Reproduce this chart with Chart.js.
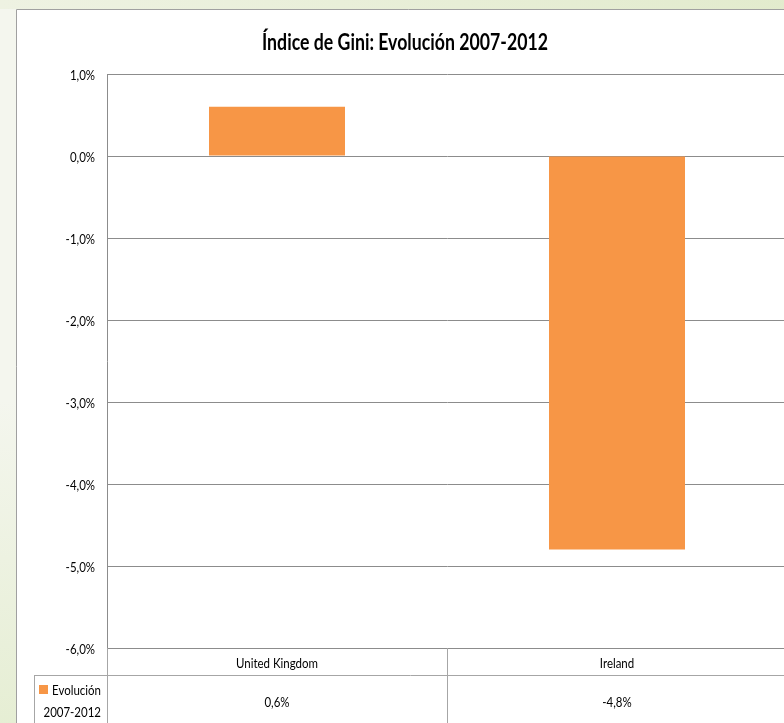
<!DOCTYPE html>
<html>
<head>
<meta charset="utf-8">
<title>Índice de Gini: Evolución 2007-2012</title>
<script src="https://cdn.jsdelivr.net/npm/chart.js@4/dist/chart.umd.min.js"></script>
<style>
  html, body { margin: 0; padding: 0; overflow: hidden; }
  body { width: 784px; height: 723px; background: #f3f5ec; }
  #wrap { position: absolute; left: 0; top: 0; width: 800px; height: 723px; }
</style>
</head>
<body>
<div id="wrap"><canvas id="c" width="800" height="723"></canvas></div>
<script>
// Chart data
const titleText = 'Índice de Gini: Evolución 2007-2012';
const categories = ['United Kingdom', 'Ireland'];
const seriesName = ['Evolución', '2007-2012'];
const seriesValues = [0.6, -4.8];
const tableLabels = ['0,6%', '-4,8%'];

const FONT = 'Lato, "Open Sans", sans-serif';
const ORANGE = '#f79646';
const GRID = '#8c8c8c';
const TABLE_LINE = '#a6a6a6';
const NARROW = 0.82;   // horizontal squeeze for a condensed look

const fmtPct = v => v.toFixed(1).replace('.', ',') + '%';

// draw text squeezed horizontally, anchored at x by the given alignment
function narrowText(ctx, text, x, y, align, sx) {
  ctx.save();
  ctx.translate(x, y);
  ctx.scale(sx, 1);
  ctx.textAlign = align;
  ctx.fillText(text, 0, 0);
  ctx.restore();
}

// Page backdrop, chart frame, title, axis labels and the data table under the plot
const decor = {
  id: 'decor',
  beforeDraw(chart) {
    const ctx = chart.ctx;
    ctx.save();
    ctx.fillStyle = '#f4f6ee';
    ctx.fillRect(0, 0, 800, 723);
    const lg = ctx.createLinearGradient(0, 400, 0, 723);
    lg.addColorStop(0, 'rgba(226,236,205,0)');
    lg.addColorStop(1, 'rgba(226,236,205,0.8)');
    ctx.fillStyle = lg;
    ctx.fillRect(0, 400, 16, 323);
    const g = ctx.createLinearGradient(0, 0, 800, 0);
    g.addColorStop(0, '#eef2e2');
    g.addColorStop(1, '#e2ebcd');
    ctx.fillStyle = g;
    ctx.fillRect(0, 0, 800, 9);
    // chart frame
    ctx.fillStyle = '#ffffff';
    ctx.fillRect(16, 9, 800, 723);
    ctx.strokeStyle = '#a0a0a0';
    ctx.lineWidth = 1;
    ctx.beginPath();
    ctx.moveTo(16.5, 723);
    ctx.lineTo(16.5, 9.5);
    ctx.lineTo(800, 9.5);
    ctx.stroke();
    ctx.restore();
  },
  afterDraw(chart) {
    const ctx = chart.ctx;
    const area = chart.chartArea;
    const x = chart.scales.x;
    const y = chart.scales.y;
    ctx.save();
    ctx.fillStyle = '#000';

    // title, squeezed to a condensed width
    ctx.font = 'bold 23px ' + FONT;
    ctx.textBaseline = 'alphabetic';
    narrowText(ctx, titleText, 405, 50, 'center', 0.77);
    ctx.textBaseline = 'middle';

    // value axis labels
    ctx.font = '14px ' + FONT;
    y.ticks.forEach(t => {
      narrowText(ctx, fmtPct(t.value), area.left - 12, y.getPixelForValue(t.value) + 1, 'right', NARROW);
    });

    // data table geometry from the category scale
    const half = (x.getPixelForValue(1) - x.getPixelForValue(0)) / 2;
    const colEdges = [x.getPixelForValue(0) - half];
    categories.forEach((c, i) => colEdges.push(x.getPixelForValue(i) + half));
    const top = area.bottom;
    const rowSplit = top + 27;
    const bottom = 723;
    const legendLeft = 34;

    ctx.strokeStyle = TABLE_LINE;
    ctx.lineWidth = 1;
    ctx.beginPath();
    ctx.moveTo(legendLeft, Math.round(rowSplit) + 0.5);
    ctx.lineTo(colEdges[colEdges.length - 1], Math.round(rowSplit) + 0.5);
    colEdges.forEach(cx => {
      const px = Math.round(cx) + 0.5;
      ctx.moveTo(px, top);
      ctx.lineTo(px, bottom);
    });
    ctx.moveTo(legendLeft + 0.5, Math.round(rowSplit));
    ctx.lineTo(legendLeft + 0.5, bottom);
    ctx.stroke();

    ctx.fillStyle = '#000';
    ctx.font = '14px ' + FONT;
    categories.forEach((c, i) => {
      narrowText(ctx, c, x.getPixelForValue(i), top + 15, 'center', NARROW);
      narrowText(ctx, tableLabels[i], x.getPixelForValue(i), rowSplit + 27, 'center', NARROW);
    });

    // legend key
    ctx.fillStyle = ORANGE;
    ctx.fillRect(39, 685, 9, 9);
    ctx.fillStyle = '#000';
    narrowText(ctx, seriesName[0], colEdges[0] - 6, 690, 'right', NARROW);
    narrowText(ctx, seriesName[1], colEdges[0] - 6, 712, 'right', NARROW);
    ctx.restore();
  }
};

new Chart(document.getElementById('c'), {
  type: 'bar',
  data: {
    labels: categories,
    datasets: [{
      label: seriesName.join(' '),
      data: seriesValues,
      backgroundColor: ORANGE,
      borderWidth: 0,
      barPercentage: 0.4,
      categoryPercentage: 1.0
    }]
  },
  options: {
    responsive: false,
    animation: false,
    layout: { padding: { left: 0, top: 74, right: 13, bottom: 75 } },
    plugins: { legend: { display: false }, title: { display: false }, tooltip: { enabled: false } },
    scales: {
      x: {
        offset: true,
        grid: { display: false, drawTicks: false },
        border: { display: true, color: GRID },
        ticks: { display: false }
      },
      y: {
        min: -6,
        max: 1,
        ticks: { stepSize: 1, display: false },
        grid: { color: GRID, drawTicks: false },
        border: { display: true, color: GRID },
        afterFit(scale) { scale.width = 107; }
      }
    }
  },
  plugins: [decor]
});
</script>
</body>
</html>
